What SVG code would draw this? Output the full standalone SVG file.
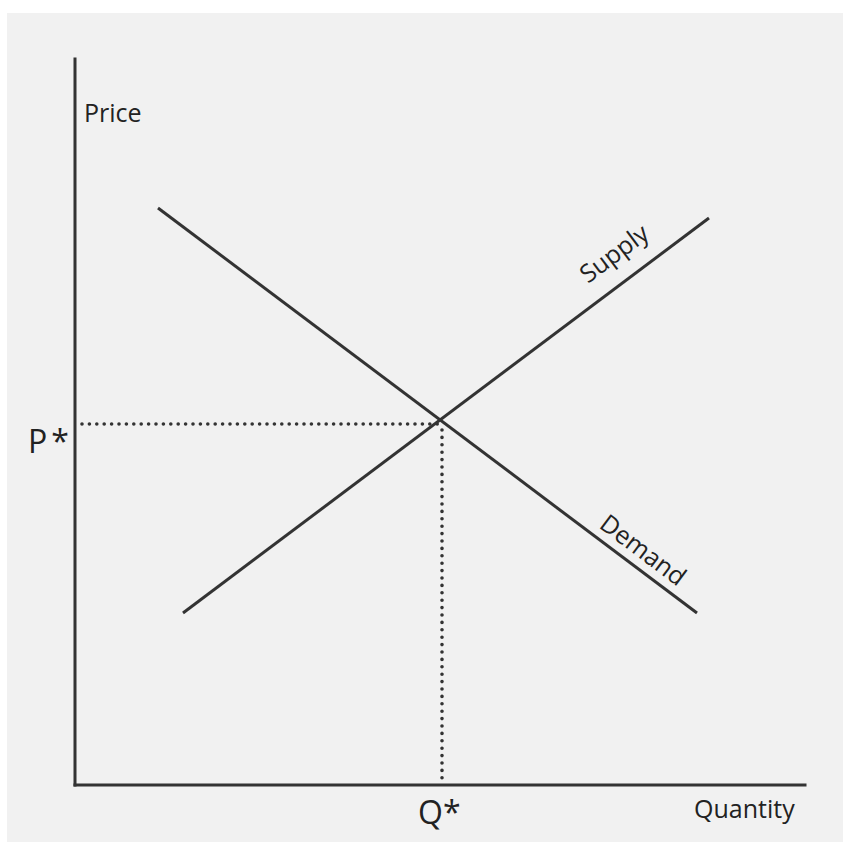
<svg xmlns="http://www.w3.org/2000/svg" width="843" height="842" viewBox="0 0 843 842">
<style>
.ax{stroke:#333;stroke-width:3;fill:none;stroke-linecap:square}
.cv{stroke:#333;stroke-width:3;fill:none}
.dot{stroke:#333;stroke-width:3.6;fill:none;stroke-linecap:round;stroke-dasharray:0 7.4}
text{font-family:"Open Sans","Liberation Sans",sans-serif;fill:#222}
.lbl{font-size:25px}
.big{font-size:32px}
</style>
<rect x="0" y="0" width="843" height="842" fill="#ffffff"/>
<rect x="7" y="13" width="836" height="829" fill="#f1f1f1"/>
<g id="axes">
<line class="ax" x1="75" y1="59" x2="75" y2="785"/>
<line class="ax" x1="75" y1="785" x2="805" y2="785"/>
</g>
<g id="connectors">
<line class="dot" x1="82" y1="424" x2="438" y2="424"/>
<line class="dot" x1="442" y1="430" x2="442" y2="781"/>
</g>
<g id="demand">
<line class="cv" x1="158" y1="208" x2="697" y2="613"/>
<text class="lbl" transform="translate(598,527) rotate(36.9)">Demand</text>
</g>
<g id="supply">
<line class="cv" x1="183" y1="613" x2="709" y2="218"/>
<text class="lbl" transform="translate(588,284) rotate(-36.9)">Supply</text>
</g>
<g id="labels">
<text class="lbl" x="84" y="122">Price</text>
<text class="lbl" x="694" y="818">Quantity</text>
<text class="big" x="28" y="453">P<tspan dx="4">*</tspan></text>
<text class="big" x="418" y="824">Q*</text>
</g>
</svg>
